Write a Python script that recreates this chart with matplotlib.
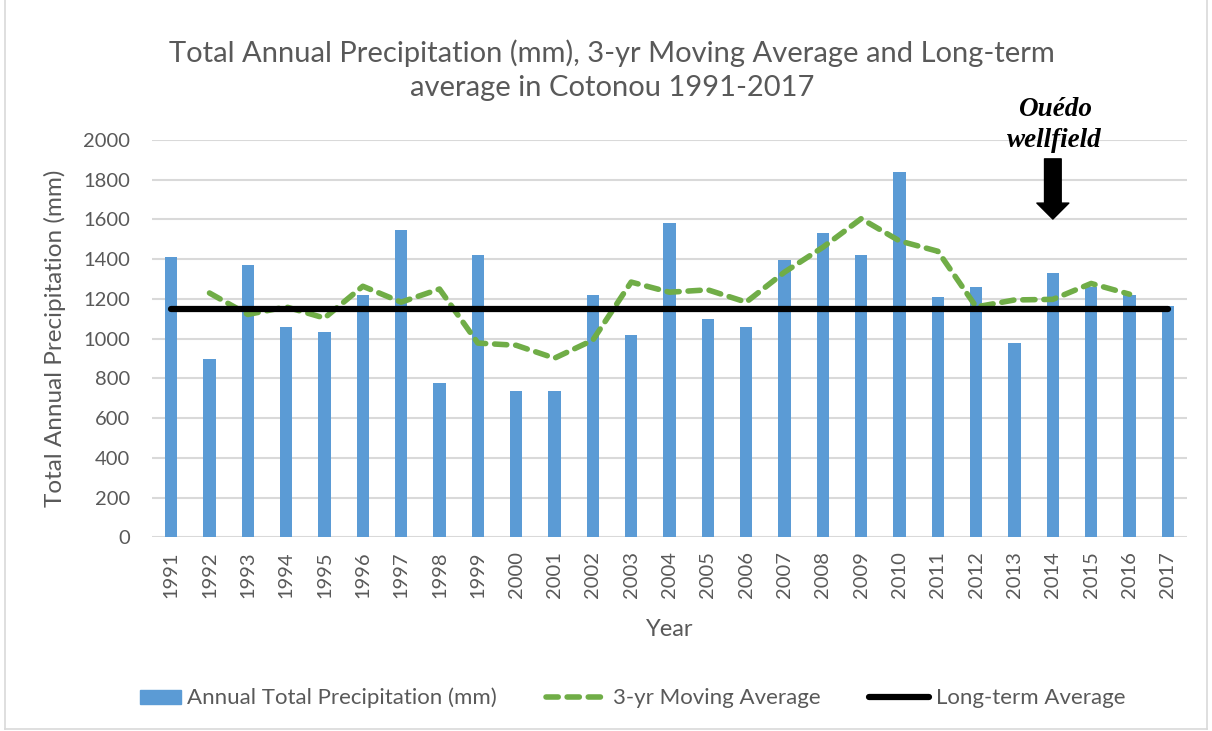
import matplotlib
matplotlib.use("Agg")
import matplotlib.pyplot as plt
from matplotlib.lines import Line2D
from matplotlib.patches import Patch, Rectangle
from matplotlib.legend_handler import HandlerPatch
import numpy as np

plt.rcParams['font.family'] = ['Lato', 'DejaVu Sans']

# data
years = [str(y) for y in range(1991, 2018)]
annual = [1410, 900, 1370, 1060, 1035, 1222, 1545, 778, 1422, 738,
          738, 1222, 1020, 1583, 1100, 1060, 1397, 1530, 1422, 1840,
          1210, 1262, 980, 1330, 1262, 1222, 1166]
ma_years = years[1:-1]
moving_avg = [1230, 1122, 1160, 1104, 1264, 1184, 1250, 978, 967, 902,
              993, 1285, 1234, 1246, 1184, 1335, 1460, 1604, 1492, 1440,
              1160, 1195, 1198, 1278, 1224]
long_term = 1147

text_col = '#595959'
blue = '#5B9BD5'
green = '#70AD47'

fig = plt.figure(figsize=(12.12, 7.31), dpi=100)
ax = fig.add_axes([0.1254, 0.2648, 0.854, 0.5437])

x = np.arange(len(years))
ax.bar(x, annual, width=0.32, color=blue, zorder=2)
ma_x = x[1:-1]
ax.plot(ma_x, moving_avg, color=green, lw=4, ls=(0, (2.2, 1.6)),
        dash_capstyle='round', zorder=3)
ax.plot([x[0], x[-1]], [long_term, long_term], color='black', lw=4.5,
        solid_capstyle='round', zorder=4)

ax.set_xlim(-0.5, len(years) - 0.5)
ax.set_ylim(0, 2000)
ax.set_yticks(range(0, 2001, 200))
ax.set_xticks(x)
ax.set_xticklabels(years, rotation=90)
ax.tick_params(axis='both', length=0, colors=text_col, labelsize=14.5)
ax.tick_params(axis='x', pad=10)
ax.tick_params(axis='y', pad=16)
ax.grid(axis='y', color='#D9D9D9', lw=1.5, zorder=0)
for s in ax.spines.values():
    s.set_visible(False)

ax.set_xlabel('Year', fontsize=17, color=text_col, labelpad=15)
ax.set_ylabel('Total Annual Precipitation (mm)', fontsize=17.5, color=text_col, labelpad=12)

fig.text(0.505, 0.904, 'Total Annual Precipitation (mm), 3-yr Moving Average and Long-term\naverage in Cotonou 1991-2017',
         ha='center', va='center', fontsize=21, color=text_col, linespacing=1.35)

# annotation for the wellfield
i2014 = years.index('2014')
ax.annotate('', xy=(i2014, 1602), xytext=(i2014, 1905),
            arrowprops=dict(arrowstyle='simple,head_width=2.3,head_length=1.15,tail_width=1.2',
                            color='black', shrinkA=0, shrinkB=0),
            annotation_clip=False)
ax.text(i2014 + 0.05, 2075, 'Ouédo\nwellfield', ha='center', va='center',
        fontsize=19.5, fontweight='bold', fontstyle='italic',
        family='Liberation Serif', linespacing=1.3)


def short_box(legend, orig_handle, xdescent, ydescent, width, height, fontsize):
    # narrower colour box, sitting at the right end of the handle space
    w = width * 0.68
    return Rectangle((width - w - xdescent, -ydescent + height * 0.05), w, height * 0.9)


handles = [Patch(color=blue),
           Line2D([], [], color=green, lw=4, ls=(0, (2.2, 1.6)), dash_capstyle='round'),
           Line2D([], [], color='black', lw=4.5, solid_capstyle='round')]
labels = ['Annual Total Precipitation (mm)', '3-yr Moving Average', 'Long-term Average']
leg = fig.legend(handles, labels, loc='center', bbox_to_anchor=(0.514, 0.045), ncol=3,
                 frameon=False, fontsize=16, handlelength=2.7, columnspacing=2.2,
                 handletextpad=0.3,
                 handler_map={Patch: HandlerPatch(patch_func=short_box)})
for t in leg.get_texts():
    t.set_color(text_col)

# faint outer frame
frame_col = '#D9D9D9'
fig.add_artist(Line2D([0.996, 0.996], [0.003, 1], transform=fig.transFigure, color=frame_col, lw=1.2))
fig.add_artist(Line2D([0.004, 0.004], [0.003, 1], transform=fig.transFigure, color=frame_col, lw=1.2))
fig.add_artist(Line2D([0.004, 0.996], [0.003, 0.003], transform=fig.transFigure, color=frame_col, lw=1.2))

fig.savefig('out.png', dpi=100)
